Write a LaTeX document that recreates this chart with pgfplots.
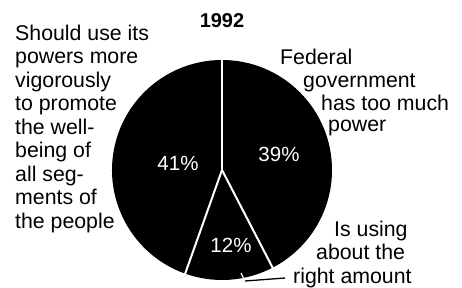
\documentclass[border=0pt]{standalone}
\usepackage{pgfplots}
\pgfplotsset{compat=1.18}
\usepackage{pgfplotstable}
\usepackage{fontspec}
\setmainfont{Liberation Sans}
% shares (percent), clockwise from 12 o'clock
\pgfplotstableread{
share value
toomuch 39
right 12
vigorous 41
}\piedata
\pgfplotstablegetelem{0}{value}\of\piedata \let\vA\pgfplotsretval
\pgfplotstablegetelem{1}{value}\of\piedata \let\vB\pgfplotsretval
\pgfplotstablegetelem{2}{value}\of\piedata \let\vC\pgfplotsretval
\pgfmathsetmacro\tot{\vA+\vB+\vC}
\pgfmathsetmacro\aA{90}
\pgfmathsetmacro\aB{90-360*\vA/\tot}
\pgfmathsetmacro\aC{\aB-360*\vB/\tot}
\pgfmathsetmacro\aD{\aC-360*\vC/\tot}
\newcommand\lab{\fontsize{21.3}{23.5}\selectfont}
\begin{document}
\begin{tikzpicture}
\begin{axis}[
  width=462pt, height=286pt, scale only axis,
  xmin=0, xmax=462, ymin=0, ymax=286,
  hide axis, clip=false,
]
\path (axis cs:0,0) rectangle (axis cs:462,286);
% slices
\fill[black] (axis cs:222,116) -- ++(\aA:110) arc[start angle=\aA, end angle=\aB, radius=110] -- cycle;
\fill[black] (axis cs:222,116) -- ++(\aB:110) arc[start angle=\aB, end angle=\aC, radius=110] -- cycle;
\fill[black] (axis cs:222,116) -- ++(\aC:110) arc[start angle=\aC, end angle=\aD, radius=110] -- cycle;
% separators
\draw[white, line width=2pt] (axis cs:222,116) -- ++(\aA:111);
\draw[white, line width=2pt] (axis cs:222,116) -- ++(\aB:111);
\draw[white, line width=2pt] (axis cs:222,116) -- ++(\aC:111);
% percentages
\node[white, font=\fontsize{20.5}{22}\selectfont] at (axis cs:178,123) {\vC\%};
\node[white, font=\fontsize{20.5}{22}\selectfont] at (axis cs:279,132) {\vA\%};
\node[white, font=\fontsize{20.5}{22}\selectfont] at (axis cs:231,41) {\vB\%};
% leader
\draw[white, line width=1.3pt] (axis cs:241,13) -- (axis cs:245,5);
\draw[black, line width=1.3pt] (axis cs:245,5) -- (axis cs:285,8);
% title
\node[anchor=base, font=\fontsize{20}{22}\selectfont\bfseries] at (axis cs:222,259) {1992};
% left label
\node[anchor=base west, inner sep=0pt, font=\lab] at (axis cs:15,246) {Should use its};
\node[anchor=base west, inner sep=0pt, font=\lab] at (axis cs:15,222.5) {powers more};
\node[anchor=base west, inner sep=0pt, font=\lab] at (axis cs:15,199) {vigorously};
\node[anchor=base west, inner sep=0pt, font=\lab] at (axis cs:15,175.5) {to promote};
\node[anchor=base west, inner sep=0pt, font=\lab] at (axis cs:15,152) {the well-};
\node[anchor=base west, inner sep=0pt, font=\lab] at (axis cs:15,128.5) {being of};
\node[anchor=base west, inner sep=0pt, font=\lab] at (axis cs:15,105) {all seg-};
\node[anchor=base west, inner sep=0pt, font=\lab] at (axis cs:15,81.5) {ments of};
\node[anchor=base west, inner sep=0pt, font=\lab] at (axis cs:15,58) {the people};
% right label
\node[anchor=base west, inner sep=0pt, font=\lab] at (axis cs:280,222) {Federal};
\node[anchor=base west, inner sep=0pt, font=\lab] at (axis cs:303,199) {government};
\node[anchor=base west, inner sep=0pt, font=\lab] at (axis cs:321,176) {has too much};
\node[anchor=base west, inner sep=0pt, font=\lab] at (axis cs:328,155) {power};
% bottom right label
\node[anchor=base west, inner sep=0pt, font=\lab] at (axis cs:334,50) {Is using};
\node[anchor=base west, inner sep=0pt, font=\lab] at (axis cs:316,26.5) {about the};
\node[anchor=base west, inner sep=0pt, font=\lab] at (axis cs:293,3) {right amount};
\end{axis}
\end{tikzpicture}
\end{document}
